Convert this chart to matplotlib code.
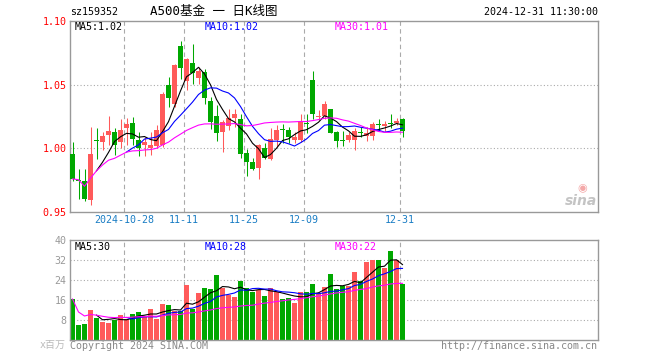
import matplotlib
matplotlib.use('Agg')
import matplotlib.pyplot as plt
import numpy as np
import pandas as pd

# ---------------- data ----------------
opens = [0.9956, 0.9750, 0.9740, 0.9591, 1.0057, 1.0052, 1.0107, 1.0125, 1.0052, 1.0156,
         1.0198, 1.0063, 1.0026, 1.0005, 1.0021, 1.0026, 1.0495, 1.0352, 1.0807, 1.0529,
         1.0672, 1.0552, 1.0599, 1.0372, 1.0255, 1.0130, 1.0177, 1.0242, 1.0229, 0.9961,
         0.9891, 0.9849, 1.0000, 0.9917, 1.0065, 1.0145, 1.0143, 1.0065, 1.0065, 1.0198,
         1.0534, 1.0247, 1.0253, 1.0307, 1.0130, 1.0060, 1.0065, 1.0065, 1.0122, 1.0096,
         1.0096, 1.0188, 1.0174, 1.0198, 1.0198, 1.0229]
highs = [1.0050, 0.9839, 0.9839, 1.0167, 1.0156, 1.0130, 1.0255, 1.0156, 1.0229, 1.0242,
         1.0247, 1.0125, 1.0091, 1.0125, 1.0182, 1.0443, 1.0560, 1.0664, 1.0846, 1.0708,
         1.0820, 1.0638, 1.0625, 1.0404, 1.0339, 1.0221, 1.0307, 1.0307, 1.0268, 0.9992,
         0.9922, 1.0031, 1.0039, 1.0156, 1.0182, 1.0195, 1.0164, 1.0130, 1.0273, 1.0268,
         1.0607, 1.0299, 1.0370, 1.0307, 1.0138, 1.0138, 1.0130, 1.0156, 1.0169, 1.0169,
         1.0203, 1.0227, 1.0216, 1.0273, 1.0242, 1.0242]
lows = [0.9740, 0.9599, 0.9583, 0.9557, 0.9917, 0.9987, 1.0026, 0.9948, 1.0000, 1.0026,
        1.0026, 0.9943, 0.9943, 0.9948, 1.0000, 1.0013, 1.0326, 1.0326, 1.0547, 1.0456,
        1.0508, 1.0508, 1.0352, 1.0151, 1.0057, 0.9974, 1.0143, 1.0170, 0.9922, 0.9779,
        0.9830, 0.9760, 0.9914, 0.9909, 1.0013, 1.0039, 1.0039, 1.0039, 1.0052, 1.0117,
        1.0227, 1.0221, 1.0227, 1.0117, 1.0013, 1.0021, 1.0052, 0.9987, 1.0086, 1.0060,
        1.0065, 1.0138, 1.0138, 1.0156, 1.0182, 1.0091]
closes = [0.9760, 0.9747, 0.9599, 0.9956, 1.0055, 1.0096, 1.0133, 1.0026, 1.0143, 1.0190,
          1.0073, 1.0005, 1.0052, 1.0026, 1.0143, 1.0430, 1.0396, 1.0656, 1.0630, 1.0698,
          1.0594, 1.0604, 1.0396, 1.0203, 1.0122, 1.0203, 1.0242, 1.0268, 0.9956, 0.9896,
          0.9839, 1.0026, 0.9922, 1.0073, 1.0143, 1.0143, 1.0091, 1.0091, 1.0214, 1.0193,
          1.0273, 1.0253, 1.0346, 1.0122, 1.0057, 1.0057, 1.0104, 1.0135, 1.0117, 1.0117,
          1.0188, 1.0182, 1.0195, 1.0193, 1.0216, 1.0138]
volumes = [16.4, 6.0, 6.4, 12.0, 8.9, 7.2, 6.8, 8.0, 10.0, 8.4,
           10.4, 11.2, 9.6, 12.4, 8.4, 14.4, 14.0, 11.6, 11.6, 22.0,
           12.4, 18.8, 20.8, 20.5, 26.0, 20.8, 18.0, 17.2, 23.6, 20.8,
           19.2, 19.9, 17.6, 20.8, 19.2, 16.4, 16.8, 14.8, 19.2, 19.2,
           22.4, 18.8, 21.2, 26.4, 20.4, 21.6, 21.6, 27.2, 23.6, 31.2,
           32.0, 32.0, 28.8, 35.6, 32.0, 22.4]
tick_idx = [9, 19, 29, 39, 55]
tick_labels = ['2024-10-28', '11-11', '11-25', '12-09', '12-31']
price_ticks = [0.95, 1.00, 1.05, 1.10]
vol_ticks = [8, 16, 24, 32, 40]

# ---------------- style ----------------
RED = '#ff5a5a'
GREEN = '#00a800'
GRID = '#aaaaaa'
BORDER = '#999999'
MONO = 'DejaVu Sans Mono'
MIX = ['DejaVu Sans Mono', 'Noto Sans CJK SC']
FS = 7.2

W, H = 660, 360
fig = plt.figure(figsize=(W / 100, H / 100), dpi=100)
fig.patch.set_facecolor('white')


def rect(l, t, r, b):
    return [l / W, 1 - b / H, (r - l) / W, (b - t) / H]


def ftext(x, y, s, **kw):
    fig.text(x / W, 1 - y / H, s, **kw)


ax = fig.add_axes(rect(70, 21, 598, 212))
axv = fig.add_axes(rect(70, 240, 598, 340))

o = np.array(opens)
h = np.array(highs)
lo = np.array(lows)
c = np.array(closes)
v = np.array(volumes)
n = len(c)
x = np.arange(n)
cols = np.where(c > o, RED, GREEN)
xl = (-2.5 / 6, (598 - 72.5) / 6)
grid_x = [t - 0.37 for t in tick_idx]

for a in (ax, axv):
    a.set_xlim(*xl)
    for gx in grid_x:
        a.axvline(gx, color=GRID, lw=0.8, dashes=(4, 3), zorder=0)
    for s in a.spines.values():
        s.set_color(BORDER)
        s.set_linewidth(1.0)

# price panel
ax.set_ylim(0.95, 1.10)
for yv in (1.00, 1.05):
    ax.axhline(yv, color=GRID, lw=0.8, ls=(0, (1, 2)), zorder=0)
ax.vlines(x, lo, h, colors=cols, lw=0.75, zorder=2)
body_b = np.minimum(o, c)
body_h = np.maximum(np.abs(c - o), 0.0008)
ax.bar(x, body_h, bottom=body_b, width=5 / 6, color=cols, linewidth=0, zorder=3)

cs = pd.Series(c)
ma5 = cs.rolling(5).mean()
ma10 = cs.rolling(10).mean()
ma30 = cs.rolling(30, min_periods=1).mean()
ax.plot(x, ma5, color='black', lw=0.8, zorder=4)
ax.plot(x, ma10, color='#0000ff', lw=0.8, zorder=4)
ax.plot(x, ma30, color='#ff00ff', lw=0.8, zorder=4)

ax.set_yticks(price_ticks)
ax.set_yticklabels(['%.2f' % p for p in price_ticks], fontfamily=MONO, fontsize=FS, color='red')
ax.tick_params(axis='y', length=0, pad=2.5)
ax.set_xticks(grid_x)
ax.set_xticklabels(tick_labels, fontfamily=MONO, fontsize=FS, color='#1a7dc4')
ax.tick_params(axis='x', length=0, pad=2.5)

# volume panel
axv.set_ylim(0, 40)
for yv in (8, 16, 24, 32):
    axv.axhline(yv, color=GRID, lw=0.8, ls=(0, (1, 2)), zorder=0)
axv.bar(x, v, width=5 / 6, color=cols, linewidth=0, zorder=2)
vs = pd.Series(v)
axv.plot(x, vs.rolling(5).mean(), color='black', lw=0.8, zorder=4)
axv.plot(x, vs.rolling(10).mean(), color='#0000ff', lw=0.8, zorder=4)
axv.plot(x, vs.rolling(30, min_periods=1).mean(), color='#ff00ff', lw=0.8, zorder=4)
axv.set_yticks(vol_ticks)
axv.set_yticklabels([str(t) for t in vol_ticks], fontfamily=MONO, fontsize=FS, color='#999999')
axv.tick_params(axis='y', length=0, pad=2.5)
axv.set_xticks([])

# texts
ftext(70, 12, 'sz159352', fontfamily=MONO, fontsize=FS, va='center', ha='left')
ftext(150, 12, 'A500基金 一 日K线图', fontfamily=MIX, fontsize=9, va='center', ha='left')
ftext(598, 12, '2024-12-31 11:30:00', fontfamily=MONO, fontsize=FS, va='center', ha='right')

ftext(75, 27, 'MA5:1.02', fontfamily=MONO, fontsize=FS, va='center', ha='left', color='black')
ftext(205, 27, 'MA10:1.02', fontfamily=MONO, fontsize=FS, va='center', ha='left', color='#0000ff')
ftext(335, 27, 'MA30:1.01', fontfamily=MONO, fontsize=FS, va='center', ha='left', color='#ff00ff')

ftext(75, 247, 'MA5:30', fontfamily=MONO, fontsize=FS, va='center', ha='left', color='black')
ftext(205, 247, 'MA10:28', fontfamily=MONO, fontsize=FS, va='center', ha='left', color='#0000ff')
ftext(335, 247, 'MA30:22', fontfamily=MONO, fontsize=FS, va='center', ha='left', color='#ff00ff')

ftext(66, 345, 'x百万', fontfamily=MIX, fontsize=FS, va='center', ha='right', color='#bbbbbb')
ftext(70, 346, 'Copyright 2024 SINA.COM', fontfamily=MONO, fontsize=FS, va='center', ha='left', color='#888888')
ftext(597, 346, 'http://finance.sina.com.cn', fontfamily=MONO, fontsize=FS, va='center', ha='right', color='#888888')

# sina watermark
ftext(597, 201, 'sina', fontfamily='DejaVu Sans', fontsize=10, fontweight='bold', style='italic',
      va='center', ha='right', color='#c4c4c4')
ftext(582, 188, '◉', fontfamily='DejaVu Sans', fontsize=8, va='center', ha='center', color='#f4a8a8')

fig.savefig('out.png', dpi=100, facecolor='white')
